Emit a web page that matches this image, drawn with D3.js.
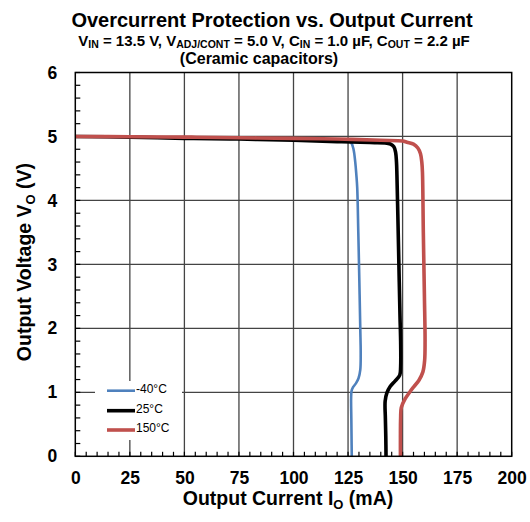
<!DOCTYPE html>
<html><head><meta charset="utf-8">
<script src="https://cdn.jsdelivr.net/npm/d3@7"></script>
<style>body{margin:0;background:#fff}svg{display:block}text{font-family:"Liberation Sans",Arial,sans-serif;fill:#000}</style>
</head><body>
<svg id="c" width="530" height="522"></svg>
<script>
const xTicks=[0,25,50,75,100,125,150,175,200];
const yTicks=[0,1,2,3,4,5,6];
const seriesNames=["-40°C","25°C","150°C"];
const seriesColors=["#4F81BD","#000000","#C0504D"];
const current_m40=[0,25,50,75,100,115,122,125,126.5,127.5,128.3,128.8,129.2,129.7,130.2,130.6,130.8,130.6,129.8,128.6,127.3,126.6,126.4,126.5,126.6,126.7];
const voltage_m40=[5.0,4.99,4.98,4.97,4.96,4.95,4.94,4.93,4.9,4.8,4.6,4.4,4.2,3.5,2.7,2.0,1.6,1.35,1.22,1.14,1.08,1.02,0.9,0.6,0.3,0];
const current_25=[0,25,50,75,100,120,135,142,144.5,146,146.8,147.2,147.4,147.8,148.3,148.8,149.1,149.1,148.7,146.6,144.3,142.8,142.0,142.1,142.3,142.4];
const voltage_25=[5.0,4.99,4.97,4.96,4.94,4.92,4.905,4.9,4.88,4.84,4.75,4.6,4.4,3.8,3.0,2.2,1.8,1.4,1.27,1.18,1.09,0.99,0.86,0.6,0.3,0];
const current_150=[0,25,50,75,100,120,140,150,152,155,157,158.2,158.8,159.1,159.5,160,160.3,160.1,159.3,157.5,155.2,153.4,151.2,149.4,149.1,149.0,149.0];
const voltage_150=[5.0,4.995,4.99,4.98,4.97,4.96,4.94,4.93,4.91,4.88,4.82,4.73,4.6,4.44,3.5,2.5,1.8,1.5,1.32,1.19,1.09,1.01,0.9,0.76,0.6,0.3,0];
const series=[
 {name:seriesNames[0],color:seriesColors[0],w:2.6,pts:current_m40.map((c,i)=>[c,voltage_m40[i]])},
 {name:seriesNames[1],color:seriesColors[1],w:3.6,pts:current_25.map((c,i)=>[c,voltage_25[i]])},
 {name:seriesNames[2],color:seriesColors[2],w:3.6,pts:current_150.map((c,i)=>[c,voltage_150[i]])}
];
const svg=d3.select("#c");
const x=d3.scaleLinear().domain([0,200]).range([75.3,511.7]);
const y=d3.scaleLinear().domain([0,6]).range([456.3,72.5]);
// gridlines
svg.append("g").selectAll("line").data(xTicks.slice(1,-1)).join("line")
 .attr("x1",d=>x(d)).attr("x2",d=>x(d)).attr("y1",y(0)).attr("y2",y(6)).attr("stroke","#444").attr("stroke-width",1.3);
svg.append("g").selectAll("line").data(yTicks.slice(1,-1)).join("line")
 .attr("y1",d=>y(d)).attr("y2",d=>y(d)).attr("x1",x(0)).attr("x2",x(200)).attr("stroke","#444").attr("stroke-width",1.3);
// minor ticks
const xMinor=d3.range(0,201,5), yMinor=d3.range(0,6.01,0.2);
svg.append("g").selectAll("line").data(xMinor).join("line")
 .attr("x1",d=>x(d)).attr("x2",d=>x(d)).attr("y1",y(0)).attr("y2",y(0)-4.5).attr("stroke","#000").attr("stroke-width",1.2);
svg.append("g").selectAll("line").data(yMinor).join("line")
 .attr("y1",d=>y(d)).attr("y2",d=>y(d)).attr("x1",x(0)).attr("x2",x(0)+5).attr("stroke","#000").attr("stroke-width",1.2);
// axes labels via d3 axis
const xAxis=svg.append("g").attr("transform",`translate(0,${y(0)})`).call(d3.axisBottom(x).tickValues(xTicks).tickFormat(d3.format("d")).tickSize(0).tickPadding(15));
const yAxis=svg.append("g").attr("transform",`translate(${x(0)},0)`).call(d3.axisLeft(y).tickValues(yTicks).tickFormat(d3.format("d")).tickSize(0).tickPadding(18));
[xAxis,yAxis].forEach(a=>{a.select(".domain").remove();a.selectAll("text").attr("font-size",17.5).attr("font-weight","bold").attr("fill","#000").attr("font-family","Liberation Sans, Arial, sans-serif");});
// legend background
svg.append("rect").attr("x",95).attr("y",381).attr("width",87).attr("height",59).attr("fill","#fff");
// curves
const line=d3.line().x(d=>x(d[0])).y(d=>y(d[1])).curve(d3.curveCatmullRom.alpha(0.5));
svg.append("g").selectAll("path").data(series).join("path")
 .attr("d",d=>line(d.pts)).attr("fill","none").attr("stroke",d=>d.color).attr("stroke-width",d=>d.w).attr("stroke-linejoin","round");
// border
svg.append("rect").attr("x",x(0)).attr("y",y(6)).attr("width",x(200)-x(0)).attr("height",y(0)-y(6)).attr("fill","none").attr("stroke","#000").attr("stroke-width",1.5);
// legend
const lg=svg.append("g").selectAll("g").data(series).join("g").attr("transform",(d,i)=>`translate(0,${[390.7,410.7,430][i]})`);
lg.append("line").attr("x1",107).attr("x2",135).attr("stroke",d=>d.color).attr("stroke-width",d=>d.w);
lg.append("text").attr("x",136).attr("y",2).text(d=>d.name).attr("font-size",12).style("font-weight","normal");
// titles
const B=s=>s.style("font-weight","bold");
B(svg.append("text").attr("x",272).attr("y",27).attr("text-anchor","middle").attr("font-size",20)).text("Overcurrent Protection vs. Output Current");
const sub=B(svg.append("text").attr("x",274).attr("y",45.5).attr("text-anchor","middle").attr("font-size",15));
const parts=[["V",0],["IN",1],[" = 13.5 V, V",0],["ADJ/CONT",1],[" = 5.0 V, C",0],["IN",1],[" = 1.0 µF, C",0],["OUT",1],[" = 2.2 µF",0]];
parts.forEach((p,i)=>{const prev=i>0?parts[i-1][1]:0;sub.append("tspan").text(p[0]).attr("font-size",p[1]?10.5:15).attr("dy",(p[1]-prev)*2);});
B(svg.append("text").attr("x",259).attr("y",63.5).attr("text-anchor","middle").attr("font-size",16)).text("(Ceramic capacitors)");
const xt=B(svg.append("text").attr("x",288).attr("y",505).attr("text-anchor","middle").attr("font-size",19.5));
xt.append("tspan").text("Output Current I");xt.append("tspan").text("O").attr("font-size",13).attr("dy",4);xt.append("tspan").text(" (mA)").attr("dy",-4);
const yt=B(svg.append("text").attr("transform","translate(31,262) rotate(-90)").attr("text-anchor","middle").attr("font-size",19.5));
yt.append("tspan").text("Output Voltage V");yt.append("tspan").text("O").attr("font-size",13).attr("dy",4);yt.append("tspan").text(" (V)").attr("dy",-4);
</script>
</body></html>
